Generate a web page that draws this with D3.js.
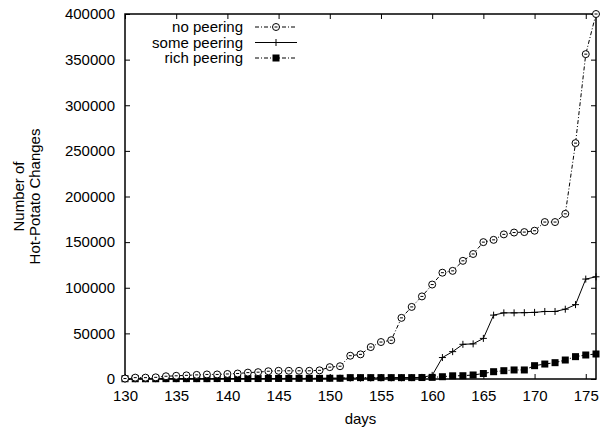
<!DOCTYPE html>
<html>
<head>
<meta charset="utf-8">
<script src="https://cdn.jsdelivr.net/npm/d3@7"></script>
<style>
  body { margin: 0; background: #fff; }
  text { font-family: "Liberation Sans", Arial, sans-serif; font-size: 15px; fill: #000; }
</style>
</head>
<body>
<svg id="chart" width="605" height="428"></svg>
<script>
"use strict";

var days = [130, 131, 132, 133, 134, 135, 136, 137, 138, 139,
            140, 141, 142, 143, 144, 145, 146, 147, 148, 149,
            150, 151, 152, 153, 154, 155, 156, 157, 158, 159,
            160, 161, 162, 163, 164, 165, 166, 167, 168, 169,
            170, 171, 172, 173, 174, 175, 176];

var noPeering = [500, 1500, 1500, 1800, 3000, 3500, 4000, 4500, 5000, 5000,
                 5500, 6000, 7000, 7500, 8500, 9000, 9000, 9000, 9000, 9500,
                 13000, 14000, 25500, 27000, 35000, 40500, 42500, 67000, 79000, 90500,
                 103500, 116500, 118500, 129500, 137000, 150000, 152500, 158500, 160500, 161000,
                 162500, 172000, 172000, 181000, 258500, 356000, 400000];

var somePeering = [200, 200, 300, 300, 300, 300, 400, 400, 400, 400,
                   500, 500, 500, 500, 500, 600, 600, 600, 700, 700,
                   800, 900, 1000, 1000, 1100, 1200, 1200, 1300, 1500, 1800,
                   4000, 23500, 30000, 38000, 38500, 44500, 70000, 72500, 72500, 72700,
                   73000, 74000, 74000, 76500, 81500, 109500, 112000];

var richPeering = [300, 300, 300, 300, 400, 400, 400, 400, 400, 500,
                   500, 500, 500, 500, 600, 600, 600, 700, 700, 700,
                   800, 800, 1500, 1500, 1500, 1500, 1500, 1500, 1500, 1600,
                   1800, 2500, 3500, 3600, 4400, 6000, 8000, 9100, 9900, 9900,
                   14600, 16400, 17900, 20800, 24500, 26300, 27400];

var xTicks = [130, 135, 140, 145, 150, 155, 160, 165, 170, 175];
var yTicks = [0, 50000, 100000, 150000, 200000, 250000, 300000, 350000, 400000];

var seriesNames = ["no peering", "some peering", "rich peering"];

var svg = d3.select("#chart");
var box = { left: 125, right: 596, top: 14, bottom: 379 };
var tickLen = 5;

var x = d3.scaleLinear().domain([130, 176]).range([box.left, box.right]);
var y = d3.scaleLinear().domain([0, 400000]).range([box.bottom, box.top]);

var series = [
    { name: seriesNames[0], values: noPeering, dash: "4,2,1,2", marker: "circle" },
    { name: seriesNames[1], values: somePeering, dash: null, marker: "plus" },
    { name: seriesNames[2], values: richPeering, dash: "4,2,1,2", marker: "square" }
];

// axes (ticks inside, mirrored like gnuplot)
var xAxisB = d3.axisBottom(x).tickValues(xTicks).tickSize(-tickLen).tickPadding(11).tickFormat(d3.format("d"));
var xAxisT = d3.axisTop(x).tickValues(xTicks).tickSize(-tickLen).tickFormat("");
var yAxisL = d3.axisLeft(y).tickValues(yTicks).tickSize(-tickLen).tickPadding(10).tickFormat(d3.format("d"));
var yAxisR = d3.axisRight(y).tickValues(yTicks).tickSize(-tickLen).tickFormat("");

svg.append("g").attr("transform", "translate(0," + box.bottom + ")").call(xAxisB);
svg.append("g").attr("transform", "translate(0," + box.top + ")").call(xAxisT);
svg.append("g").attr("transform", "translate(" + box.left + ",0)").call(yAxisL);
svg.append("g").attr("transform", "translate(" + box.right + ",0)").call(yAxisR);

svg.selectAll(".domain").remove();
svg.selectAll(".tick line").attr("stroke", "#000").attr("stroke-width", 1);
svg.selectAll(".tick text").style("font-size", "15px").attr("font-family", null);

svg.append("rect")
    .attr("x", box.left).attr("y", box.top)
    .attr("width", box.right - box.left).attr("height", box.bottom - box.top)
    .attr("fill", "none").attr("stroke", "#000").attr("stroke-width", 1.5);

// axis titles
svg.append("text").attr("x", (box.left + box.right) / 2).attr("y", 424)
    .attr("text-anchor", "middle").text("days");

var yt = svg.append("text")
    .attr("transform", "translate(25," + ((box.top + box.bottom) / 2) + ") rotate(-90)")
    .attr("text-anchor", "middle");
yt.append("tspan").attr("x", 0).attr("dy", "-0.1em").text("Number of");
yt.append("tspan").attr("x", 0).attr("dy", "1.07em").text("Hot-Potato Changes");

function drawMarker(g, kind, cx, cy) {
    if (kind === "circle") {
        g.append("circle").attr("cx", cx).attr("cy", cy).attr("r", 3.5)
            .attr("fill", "#fff").attr("stroke", "#000").attr("stroke-width", 1);
        g.append("line").attr("x1", cx - 1.5).attr("x2", cx + 1.5).attr("y1", cy).attr("y2", cy)
            .attr("stroke", "#000").attr("stroke-width", 1);
    } else if (kind === "plus") {
        g.append("path").attr("d", "M" + (cx - 3.5) + "," + cy + "h7M" + cx + "," + (cy - 3.5) + "v7")
            .attr("stroke", "#000").attr("stroke-width", 1);
    } else {
        g.append("rect").attr("x", cx - 3.5).attr("y", cy - 3.5).attr("width", 7).attr("height", 7)
            .attr("fill", "#000");
    }
}

var line = d3.line()
    .x(function (d, i) { return x(days[i]); })
    .y(function (d) { return y(d); });

var plot = svg.append("g");
series.forEach(function (s) {
    plot.append("path")
        .attr("d", line(s.values))
        .attr("fill", "none").attr("stroke", "#000").attr("stroke-width", 1)
        .attr("stroke-dasharray", s.dash);
});
series.slice().reverse().forEach(function (s) {
    var g = plot.append("g");
    s.values.forEach(function (v, i) { drawMarker(g, s.marker, x(days[i]), y(v)); });
});

// legend
var legend = svg.append("g");
series.forEach(function (s, i) {
    var ly = 27 + i * 15.5;
    legend.append("text").attr("x", 243).attr("y", ly).attr("dy", "0.35em")
        .attr("text-anchor", "end").text(s.name);
    legend.append("line").attr("x1", 255).attr("x2", 297).attr("y1", ly).attr("y2", ly)
        .attr("stroke", "#000").attr("stroke-width", 1).attr("stroke-dasharray", s.dash);
    drawMarker(legend, s.marker, 276, ly);
});
</script>
</body>
</html>
